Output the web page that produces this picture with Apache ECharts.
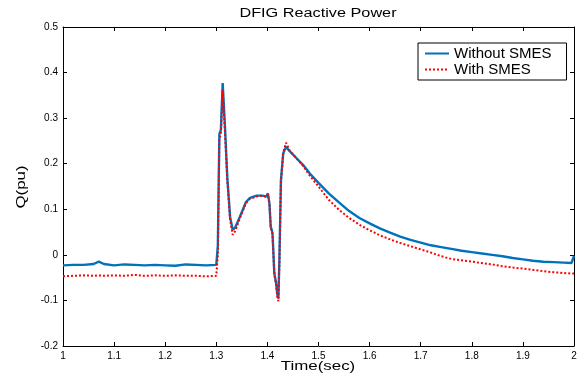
<!DOCTYPE html>
<html><head><meta charset="utf-8">
<script src="https://cdn.jsdelivr.net/npm/echarts@6/dist/echarts.min.js"></script>
<style>html,body{margin:0;padding:0;background:#fff}#c{width:578px;height:381px}</style>
</head><body><div id="c"></div>
<script>
const time = [1.00,1.02,1.04,1.06,1.07,1.08,1.10,1.12,1.14,1.16,1.18,1.20,1.22,1.24,1.26,1.28,
  1.300,1.303,1.306,1.309,1.3125,1.317,1.3215,1.327,1.332,1.337,
  1.346,1.358,1.366,1.379,1.390,1.398,1.401,1.404,1.4065,1.410,
  1.4135,1.417,1.4195,1.4215,1.4235,1.4265,1.431,1.4365,1.444,1.457,
  1.470,1.4834,1.50,1.52,1.54,1.56,1.58,1.60,1.62,1.64,
  1.66,1.68,1.70,1.72,1.74,1.76,1.78,1.80,1.82,1.84,
  1.86,1.88,1.90,1.92,1.94,1.96,1.98,1.995,2.00];
const qWithoutSMES = [-0.023,-0.022,-0.022,-0.020,-0.015,-0.020,-0.023,-0.021,-0.022,-0.023,-0.022,-0.023,-0.024,-0.021,-0.022,-0.023,
  -0.022,0.020,0.265,0.275,0.377,0.280,0.170,0.083,0.055,0.060,
  0.083,0.116,0.125,0.130,0.130,0.128,0.135,0.113,0.062,0.048,
  -0.040,-0.062,-0.088,-0.095,-0.010,0.164,0.223,0.237,0.227,0.212,
  0.197,0.178,0.158,0.135,0.115,0.096,0.081,0.069,0.058,0.049,
  0.040,0.033,0.027,0.021,0.017,0.013,0.009,0.006,0.003,0.000,
  -0.003,-0.007,-0.010,-0.013,-0.015,-0.016,-0.017,-0.018,-0.002];
const qWithSMES = [-0.047,-0.046,-0.045,-0.046,-0.045,-0.046,-0.045,-0.046,-0.044,-0.046,-0.045,-0.046,-0.045,-0.046,-0.046,-0.047,
  -0.046,0.000,0.255,0.265,0.362,0.270,0.165,0.078,0.044,0.052,
  0.080,0.113,0.123,0.128,0.130,0.127,0.133,0.110,0.060,0.045,
  -0.042,-0.065,-0.092,-0.102,-0.015,0.160,0.225,0.246,0.228,0.212,
  0.195,0.173,0.150,0.121,0.099,0.081,0.066,0.054,0.043,0.034,
  0.026,0.019,0.012,0.005,-0.003,-0.009,-0.012,-0.015,-0.018,-0.021,
  -0.025,-0.028,-0.030,-0.033,-0.036,-0.038,-0.040,-0.041,-0.041];
const xTickLabels = ['1','1.1','1.2','1.3','1.4','1.5','1.6','1.7','1.8','1.9','2'];
const yTickLabels = ['-0.2','-0.1','0','0.1','0.2','0.3','0.4','0.5'];

const FONT = 'Liberation Sans, Arial, sans-serif';
const xMin = parseFloat(xTickLabels[0]), xMax = parseFloat(xTickLabels[xTickLabels.length-1]);
const yMin = parseFloat(yTickLabels[0]), yMax = parseFloat(yTickLabels[yTickLabels.length-1]);
const fmtX = v => { const i = Math.round((v - xMin) / 0.1); return xTickLabels[i] !== undefined ? xTickLabels[i] : ''; };
const fmtY = v => { const i = Math.round((v - yMin) / 0.1); return yTickLabels[i] !== undefined ? yTickLabels[i] : ''; };

const axisCommon = {
  type: 'value', splitLine: { show: false },
  axisLine: { show: true, onZero: false, lineStyle: { color: '#000', width: 1 } },
  axisTick: { show: true, inside: true, length: 4, lineStyle: { color: '#000' } }
};

const chart = echarts.init(document.getElementById('c'), null, { renderer: 'canvas' });
chart.setOption({
  backgroundColor: '#fff',
  animation: false,
  graphic: [
    { type: 'text', x: 318, y: 14, scaleX: 1.3, scaleY: 1,
      style: { text: 'DFIG Reactive Power', font: '12.5px Liberation Sans, Arial, sans-serif',
        fill: '#000', align: 'center', verticalAlign: 'middle' } },
    { type: 'text', x: 318, y: 366, scaleX: 1.3, scaleY: 1,
      style: { text: 'Time(sec)', font: '13px Liberation Sans, Arial, sans-serif',
        fill: '#000', align: 'center', verticalAlign: 'middle' } },
    { type: 'text', x: 21, y: 187, rotation: Math.PI / 2, scaleX: 1.3, scaleY: 1,
      style: { text: 'Q(pu)', font: '13px Liberation Sans, Arial, sans-serif',
        fill: '#000', align: 'center', verticalAlign: 'middle' } }
  ],
  grid: { left: 63, right: 4, top: 27, bottom: 35, containLabel: false, outerBoundsMode: 'none' },
  legend: {
    orient: 'vertical', left: 418, top: 43,
    padding: [3, 15, 3, 6], itemGap: 1, itemWidth: 24, itemHeight: 14,
    borderColor: '#000', borderWidth: 1, backgroundColor: '#fff',
    itemStyle: { opacity: 0 },
    textStyle: { fontFamily: FONT, fontSize: 15, color: '#000' },
    data: ['Without SMES', 'With SMES']
  },
  xAxis: [
    Object.assign({}, axisCommon, { position: 'bottom', min: xMin, max: xMax, interval: 0.1,
      axisLabel: { fontFamily: FONT, fontSize: 10, color: '#000', margin: 5, formatter: fmtX } }),
    Object.assign({}, axisCommon, { position: 'top', min: xMin, max: xMax, interval: 0.1,
      axisLabel: { show: false } })
  ],
  yAxis: [
    Object.assign({}, axisCommon, { position: 'left', min: yMin, max: yMax, interval: 0.1,
      axisLabel: { fontFamily: FONT, fontSize: 10, color: '#000', margin: 5, formatter: fmtY } }),
    Object.assign({}, axisCommon, { position: 'right', min: yMin, max: yMax, interval: 0.1,
      axisLabel: { show: false } })
  ],
  series: [
    { name: 'Without SMES', type: 'line', symbol: 'none', xAxisIndex: 0, yAxisIndex: 0,
      data: time.map((t, i) => [t, qWithoutSMES[i]]),
      itemStyle: { color: '#0072BD' },
      lineStyle: { color: '#0072BD', width: 2.4, type: 'solid' }, z: 2 },
    { name: 'With SMES', type: 'line', symbol: 'none', xAxisIndex: 0, yAxisIndex: 0,
      data: time.map((t, i) => [t, qWithSMES[i]]),
      itemStyle: { color: '#FF0000' },
      lineStyle: { color: '#FF0000', width: 2, type: [2, 2] }, z: 3 }
  ]
});
</script></body></html>
